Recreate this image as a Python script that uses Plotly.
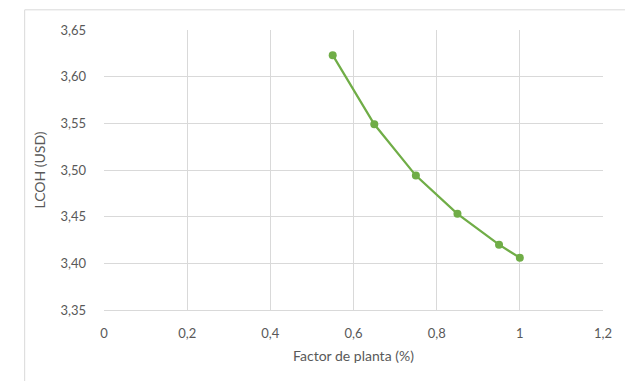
import plotly.graph_objects as go

factor_planta = [0.55, 0.65, 0.75, 0.85, 0.95, 1.0]
lcoh_usd = [3.623, 3.549, 3.494, 3.453, 3.420, 3.406]

x_title = "Factor de planta (%)"
y_title = "LCOH (USD)"

fig = go.Figure()
fig.add_trace(go.Scatter(
    x=factor_planta, y=lcoh_usd, mode="lines+markers",
    line=dict(color="#70AD47", width=2.25),
    marker=dict(color="#70AD47", size=8),
    showlegend=False,
))

font_fam = "Lato, Open Sans, sans-serif"
fig.update_layout(
    width=625, height=381,
    margin=dict(l=104, r=22, t=30, b=71),
    paper_bgcolor="white", plot_bgcolor="white",
    separators=",.",
    font=dict(family=font_fam, size=13, color="#595959"),
    xaxis=dict(
        range=[0, 1.2], dtick=0.2, tick0=0,
        showgrid=True, gridcolor="#d9d9d9", gridwidth=1,
        zeroline=False, showline=True, linecolor="#d9d9d9", linewidth=1,
        ticks="", ticklabelstandoff=11,
        title=dict(text=x_title, font=dict(size=14, color="#595959"), standoff=11),
        mirror=False,
    ),
    yaxis=dict(
        range=[3.35, 3.65], dtick=0.05, tick0=3.35, tickformat=".2f",
        showgrid=True, gridcolor="#d9d9d9", gridwidth=1,
        zeroline=False, showline=False,
        ticks="", ticklabelstandoff=17,
        title=dict(text=y_title, font=dict(size=14, color="#595959"), standoff=11),
    ),
    shapes=[dict(type="rect", xref="paper", yref="paper",
                 x0=-0.159, y0=-0.4, x1=1.2, y1=1.072,
                 line=dict(color="#d9d9d9", width=1), layer="below")],
)

fig.write_html("out.html")
